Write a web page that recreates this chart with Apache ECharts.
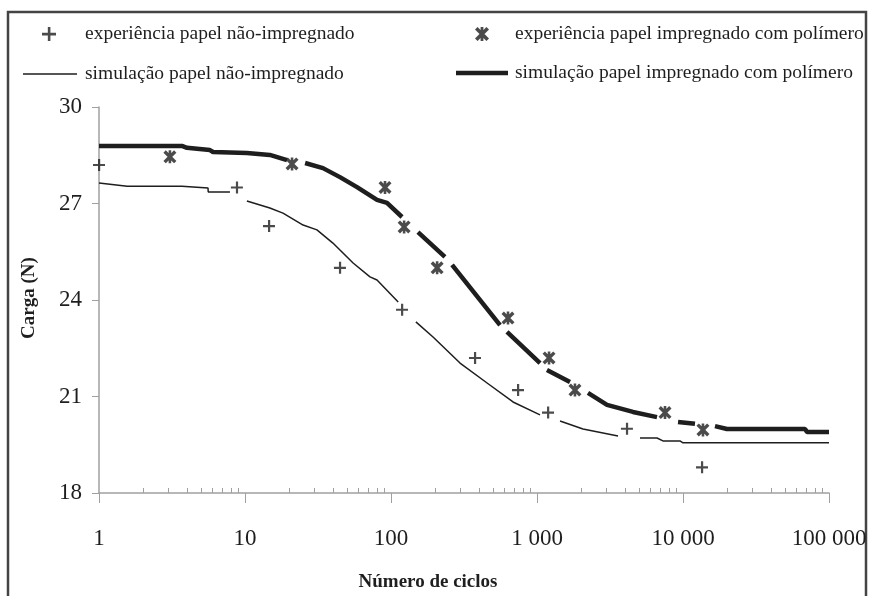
<!DOCTYPE html>
<html>
<head>
<meta charset="utf-8">
<script src="https://cdn.jsdelivr.net/npm/echarts@6/dist/echarts.min.js"></script>
<style>
  html, body { margin: 0; padding: 0; background: #fff; }
  #chart { width: 870px; height: 596px; }
</style>
</head>
<body>
<div id="chart"></div>
<script>
// experiência (pontos)
var expNaoX = [1, 8.8, 14.6, 44.7, 119, 376, 741, 1190, 4130, 13490];
var expNaoY = [28.2, 27.5, 26.3, 25.0, 23.7, 22.2, 21.2, 20.5, 20.0, 18.8];
var expImpX = [3.06, 21, 91, 123, 207, 633, 1209, 1820, 7530, 13700];
var expImpY = [28.45, 28.23, 27.5, 26.27, 25.0, 23.44, 22.2, 21.2, 20.5, 19.96];

// simulação (curvas) - null = interrupção da linha
var simNaoX = [1, 1.56, 3.7, 3.76, 5.58, 5.6, 7.89, 8.8, 10.3, 14.8, 18.2, 25, 31.1, 40, 55, 71.8, 80.2, 112,
  125, 148, 194, 297, 455, 685, 1049, 1200, 1438, 2065, 3589, 4200, 5075, 6637, 7290, 9530, 10000, 100000];
var simNaoY = [27.64, 27.54, 27.54, 27.48, 27.48, 27.36, 27.36, null, 27.08, 26.86, 26.70, 26.33, 26.18, 25.77, 25.15, 24.72, 24.62, 23.94,
  null, 23.32, 22.85, 22.04, 21.42, 20.83, 20.43, null, 20.24, 19.99, 19.77, null, 19.71, 19.71, 19.62, 19.62, 19.56, 19.56];
var simImpX = [1, 3.7, 4.0, 5.75, 6.04, 10.3, 14.8, 19.4, 21, 25.8, 34.2, 44.7, 58.5, 80.2, 93.9, 119, 130,
  153, 234, 248, 262, 558, 590, 623, 1049, 1100, 1170, 1682, 1950, 2234, 3016, 4545, 6637, 7500,
  9247, 12080, 14000, 16560, 20000, 68500, 70700, 100000];
var simImpY = [28.79, 28.79, 28.73, 28.66, 28.60, 28.57, 28.51, 28.35, null, 28.26, 28.10, 27.82, 27.51, 27.11, 27.02, 26.58, null,
  26.11, 25.34, null, 25.09, 23.22, null, 23.01, 22.04, null, 21.82, 21.45, null, 21.11, 20.74, 20.52, 20.36, null,
  20.21, 20.15, null, 20.08, 19.99, 19.99, 19.90, 19.90];

// eixos
var xTicks = [1, 10, 100, 1000, 10000, 100000];
var xTickLabels = ["1", "10", "100", "1 000", "10 000", "100 000"];
var xMinorTicks = [2, 3, 4, 5, 6, 7, 8, 9, 20, 30, 40, 50, 60, 70, 80, 90,
  200, 300, 400, 500, 600, 700, 800, 900, 2000, 3000, 4000, 5000, 6000, 7000, 8000, 9000,
  20000, 30000, 40000, 50000, 60000, 70000, 80000, 90000];

var names = [
  "experiência papel não-impregnado",
  "experiência papel impregnado com polímero",
  "simulação papel não-impregnado",
  "simulação papel impregnado com polímero"
];

function pairs(xs, ys) {
  var out = [];
  for (var i = 0; i < xs.length; i++) {
    out.push([xs[i], ys[i] === null ? "-" : ys[i]]);
  }
  return out;
}

var plusSymbol = "path://M5,0h2.2v12h-2.2z M0,5h12v2.2h-12z";
var starSymbol = "path://M0,2.2L2.2,0L12,9.8L9.8,12z M9.8,0L12,2.2L2.2,12L0,9.8z M4.8,0h2.4v12h-2.4z";
var font = "Liberation Serif";
var ink = "#1e1e1e";
var axisGray = "#a0a0a0";

var chart = echarts.init(document.getElementById("chart"));

function legendItem(name, left, top, w, h, pad, icon) {
  var l = {
    data: [name],
    left: left,
    top: top,
    itemWidth: w,
    itemHeight: h,
    padding: 0,
    textStyle: { fontFamily: font, fontSize: 19.5, color: ink, padding: [0, 0, 0, pad] }
  };
  if (icon) l.icon = icon;
  return l;
}

var option = {
  backgroundColor: "#fff",
  animation: false,
  legend: [
    legendItem(names[0], 42, 24, 14, 14, 24),
    legendItem(names[1], 475, 24, 14, 14, 21),
    legendItem(names[2], 23, 64, 54, 1.5, 3, "rect"),
    legendItem(names[3], 456, 63, 52, 4.5, 2, "rect")
  ],
  grid: { left: 99, right: 41, top: 107, bottom: 103 },
  xAxis: [
    {
      type: "log",
      logBase: 10,
      min: 1,
      max: 100000,
      axisLine: { lineStyle: { color: axisGray, width: 1.5 } },
      axisTick: { show: true, length: 10, customValues: xTicks, lineStyle: { color: axisGray, width: 1 } },
      axisLabel: {
        customValues: xTicks,
        fontFamily: font,
        fontSize: 23,
        color: ink,
        margin: 34,
        formatter: function (v) {
          var i = xTicks.indexOf(v);
          return i >= 0 ? xTickLabels[i] : "";
        }
      },
      splitLine: { show: false }
    },
    {
      type: "log",
      logBase: 10,
      min: 1,
      max: 100000,
      position: "bottom",
      axisLine: { show: false },
      axisTick: { show: true, inside: true, length: 5, customValues: xMinorTicks, lineStyle: { color: axisGray, width: 1 } },
      axisLabel: { show: false },
      splitLine: { show: false }
    }
  ],
  yAxis: {
    type: "value",
    min: 18,
    max: 30,
    interval: 3,
    axisLine: { show: true, lineStyle: { color: axisGray, width: 1.5 } },
    axisTick: { show: true, length: 7, lineStyle: { color: axisGray } },
    axisLabel: { fontFamily: font, fontSize: 23, color: ink, margin: 17 },
    splitLine: { show: false }
  },
  graphic: [
    {
      type: "rect",
      shape: { x: 8, y: 12, width: 858, height: 600 },
      style: { fill: "none", stroke: "#444", lineWidth: 2.5 },
      silent: true
    },
    {
      type: "text",
      x: 29,
      y: 298,
      rotation: Math.PI / 2,
      style: {
        text: "Carga (N)",
        fontFamily: font,
        fontWeight: "bold",
        fontSize: 19,
        fill: ink,
        align: "center",
        verticalAlign: "middle"
      }
    },
    {
      type: "text",
      x: 428,
      y: 582,
      style: {
        text: "Número de ciclos",
        fontFamily: font,
        fontWeight: "bold",
        fontSize: 19,
        fill: ink,
        align: "center",
        verticalAlign: "middle"
      }
    }
  ],
  series: [
    {
      name: names[0],
      type: "scatter",
      symbol: plusSymbol,
      symbolSize: 12,
      itemStyle: { color: ink },
      data: pairs(expNaoX, expNaoY),
      z: 3
    },
    {
      name: names[1],
      type: "scatter",
      symbol: starSymbol,
      symbolSize: 13,
      itemStyle: { color: ink },
      data: pairs(expImpX, expImpY),
      z: 3
    },
    {
      name: names[2],
      type: "line",
      symbol: "none",
      lineStyle: { color: ink, width: 1.5 },
      itemStyle: { color: ink },
      connectNulls: false,
      data: pairs(simNaoX, simNaoY)
    },
    {
      name: names[3],
      type: "line",
      symbol: "none",
      lineStyle: { color: ink, width: 4.5 },
      itemStyle: { color: ink },
      connectNulls: false,
      data: pairs(simImpX, simImpY)
    }
  ]
};

chart.setOption(option);
</script>
</body>
</html>
